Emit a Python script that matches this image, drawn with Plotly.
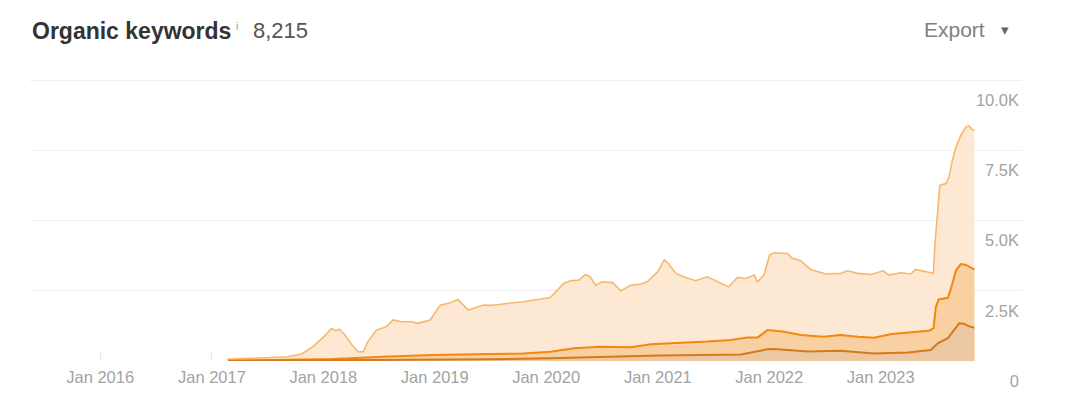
import plotly.graph_objects as go

# ---- data ----
total_dates = ["2017-02-20", "2017-05-15", "2017-07-10", "2017-09-05", "2017-10-22", "2017-11-28",
               "2018-01-02", "2018-01-28", "2018-02-10", "2018-02-23", "2018-03-13", "2018-04-05",
               "2018-04-25", "2018-05-12", "2018-05-27", "2018-06-24", "2018-07-26", "2018-08-18",
               "2018-09-15", "2018-10-18", "2018-11-05", "2018-12-17", "2019-01-19", "2019-02-21",
               "2019-03-18", "2019-04-01", "2019-04-21", "2019-06-10", "2019-07-02", "2019-07-26",
               "2019-08-25", "2019-10-19", "2019-12-13", "2020-01-15", "2020-02-27", "2020-03-20",
               "2020-04-17", "2020-05-09", "2020-05-24", "2020-06-11", "2020-07-03", "2020-08-06",
               "2020-09-02", "2020-10-05", "2020-11-07", "2020-11-27", "2021-01-01", "2021-01-22",
               "2021-02-04", "2021-03-01", "2021-03-26", "2021-05-05", "2021-06-12", "2021-07-19",
               "2021-08-21", "2021-09-19", "2021-10-16", "2021-11-13", "2021-11-23", "2021-12-15",
               "2022-01-02", "2022-01-17", "2022-03-02", "2022-03-17", "2022-04-14", "2022-05-16",
               "2022-07-06", "2022-08-23", "2022-09-15", "2022-10-17", "2022-12-01", "2023-01-09",
               "2023-01-29", "2023-03-08", "2023-04-10", "2023-04-25", "2023-05-17", "2023-06-14",
               "2023-06-23", "2023-06-28", "2023-07-08", "2023-07-14", "2023-08-03", "2023-08-13",
               "2023-08-24", "2023-09-05", "2023-09-21", "2023-10-08", "2023-10-18", "2023-10-28",
               "2023-11-04"]
total_values = [60, 100, 130, 150, 250, 510,
                860, 1160, 1080, 1130, 925, 570,
                330, 330, 690, 1100, 1220, 1460,
                1400, 1400, 1340, 1460, 1990, 2070,
                2190, 2050, 1815, 1990, 1980, 2000,
                2050, 2110, 2190, 2260, 2760, 2860,
                2880, 3080, 3000, 2700, 2820, 2790,
                2500, 2700, 2740, 2820, 3180, 3600,
                3480, 3120, 3000, 2860, 3000, 2820,
                2640, 2980, 2940, 3060, 2820, 3060,
                3770, 3850, 3830, 3660, 3570, 3260,
                3100, 3120, 3210, 3120, 3080, 3210,
                3060, 3140, 3100, 3260, 3210, 3150,
                3120, 4190, 5610, 6260, 6320, 6560,
                7150, 7630, 8040, 8340, 8360, 8240,
                8215]

top10_dates = ["2017-02-23", "2018-02-04", "2018-07-15", "2018-12-26", "2019-07-02", "2019-10-18",
               "2020-01-15", "2020-04-01", "2020-06-26", "2020-07-29", "2020-10-05", "2020-12-09",
               "2021-02-23", "2021-06-13", "2021-08-27", "2021-10-22", "2021-11-24", "2021-12-26",
               "2022-02-19", "2022-04-14", "2022-06-28", "2022-08-23", "2022-10-18", "2022-12-10",
               "2023-02-06", "2023-04-01", "2023-06-08", "2023-06-23", "2023-07-01", "2023-07-10",
               "2023-08-09", "2023-08-18", "2023-09-05", "2023-09-21", "2023-10-08", "2023-11-04"]
top10_values = [10, 70, 150, 210, 250, 270,
                330, 450, 510, 510, 490, 600,
                630, 690, 750, 840, 840, 1100,
                1040, 925, 865, 925, 865, 830,
                960, 1010, 1080, 1160, 1930, 2190,
                2250, 2530, 3240, 3450, 3420, 3250]

top3_dates = ["2017-02-23", "2018-12-17", "2019-07-02", "2020-01-15", "2020-05-24", "2020-12-09",
              "2021-01-02", "2021-10-01", "2021-10-22", "2021-12-26", "2022-01-16", "2022-05-07",
              "2022-08-23", "2022-12-10", "2023-04-01", "2023-06-14", "2023-07-07", "2023-08-09",
              "2023-09-15", "2023-10-01", "2023-10-14", "2023-11-04"]
top3_values = [5, 40, 60, 95, 130, 210,
               200, 230, 270, 420, 430, 340,
               365, 270, 300, 390, 630, 810,
               1340, 1330, 1250, 1180]

tick_dates = ["2016-01-01", "2017-01-01", "2018-01-01", "2019-01-01",
              "2020-01-01", "2021-01-01", "2022-01-01", "2023-01-01"]
tick_labels = ["Jan 2016", "Jan 2017", "Jan 2018", "Jan 2019",
               "Jan 2020", "Jan 2021", "Jan 2022", "Jan 2023"]
y_ticks = [0, 2500, 5000, 7500, 10000]
y_labels = ["0", "2.5K", "5.0K", "7.5K", "10.0K"]

FONT = "Liberation Sans, Arial, sans-serif"

fig = go.Figure()
fig.add_trace(go.Scatter(x=total_dates, y=total_values, mode="lines", fill="tozeroy",
                         line=dict(color="#f8b86c", width=1.6, shape="linear"),
                         fillcolor="#fde8d3", hoverinfo="skip", showlegend=False))
fig.add_trace(go.Scatter(x=top10_dates, y=top10_values, mode="lines", fill="tozeroy",
                         line=dict(color="#f5870f", width=2),
                         fillcolor="#f9d0a1", hoverinfo="skip", showlegend=False))
fig.add_trace(go.Scatter(x=top3_dates, y=top3_values, mode="lines", fill="tozeroy",
                         line=dict(color="#d6781c", width=2),
                         fillcolor="#ecc8a2", hoverinfo="skip", showlegend=False))

# page has an 8px body margin, so figure is 1049x391 placed at (8, 8)
OFF = 8
W, H = 1065 - 2 * OFF, 407 - 2 * OFF
L, R, T, B = 30 - OFF, W - (1022 - OFF), 71, H - (361 - OFF)
Y_TOP = 10040
fig.update_layout(
    width=W, height=H,
    margin=dict(l=L, r=R, t=T, b=B, autoexpand=False),
    paper_bgcolor="white", plot_bgcolor="white",
    font=dict(family=FONT),
    xaxis=dict(range=["2015-05-16", "2024-04-08"], type="date", automargin=False,
               tickvals=tick_dates, ticktext=tick_labels,
               showgrid=False, zeroline=False, showline=False,
               ticks="inside", ticklen=9, tickcolor="#e8e8e8", tickwidth=1,
               tickfont=dict(size=16.5, color="#a3a3a3", family=FONT),
               ticklabelstandoff=4, layer="below traces"),
    yaxis=dict(range=[0, Y_TOP], side="right", tickvals=y_ticks, ticktext=y_labels,
               automargin=False,
               showgrid=True, gridcolor="#efefef", gridwidth=1.2, zeroline=False,
               showline=False, ticks="", ticklabelposition="inside",
               ticklabeloverflow="allow", ticklabelshift=20,
               tickfont=dict(size=16.5, color="#a3a3a3", family=FONT)),
)

ph = H - T - B
pw = W - L - R
def py(px):
    return ((361 - OFF) - (px - OFF)) / ph

def pxx(px):
    return (px - 30) / pw

anns = [
    dict(text="<b>Organic keywords</b>", x=0, y=py(31), xanchor="left", yanchor="middle",
         font=dict(size=23, color="#333333", family=FONT)),
    dict(text="i", x=pxx(237), y=py(26), xanchor="center", yanchor="middle",
         font=dict(size=11, color="#9a9a9a", family=FONT)),
    dict(text="8,215", x=pxx(251), y=py(31), xanchor="left", yanchor="middle",
         font=dict(size=22, color="#555555", family=FONT)),
    dict(text="Export", x=pxx(987), y=py(29), xanchor="right", yanchor="middle",
         font=dict(size=21, color="#808080", family=FONT)),
    dict(text="▾", x=pxx(1005), y=py(30), xanchor="center", yanchor="middle",
         font=dict(size=15, color="#666666", family="DejaVu Sans")),
]
for a in anns:
    a.update(xref="paper", yref="paper", showarrow=False)
fig.update_layout(annotations=anns)

fig.write_html("out.html")
